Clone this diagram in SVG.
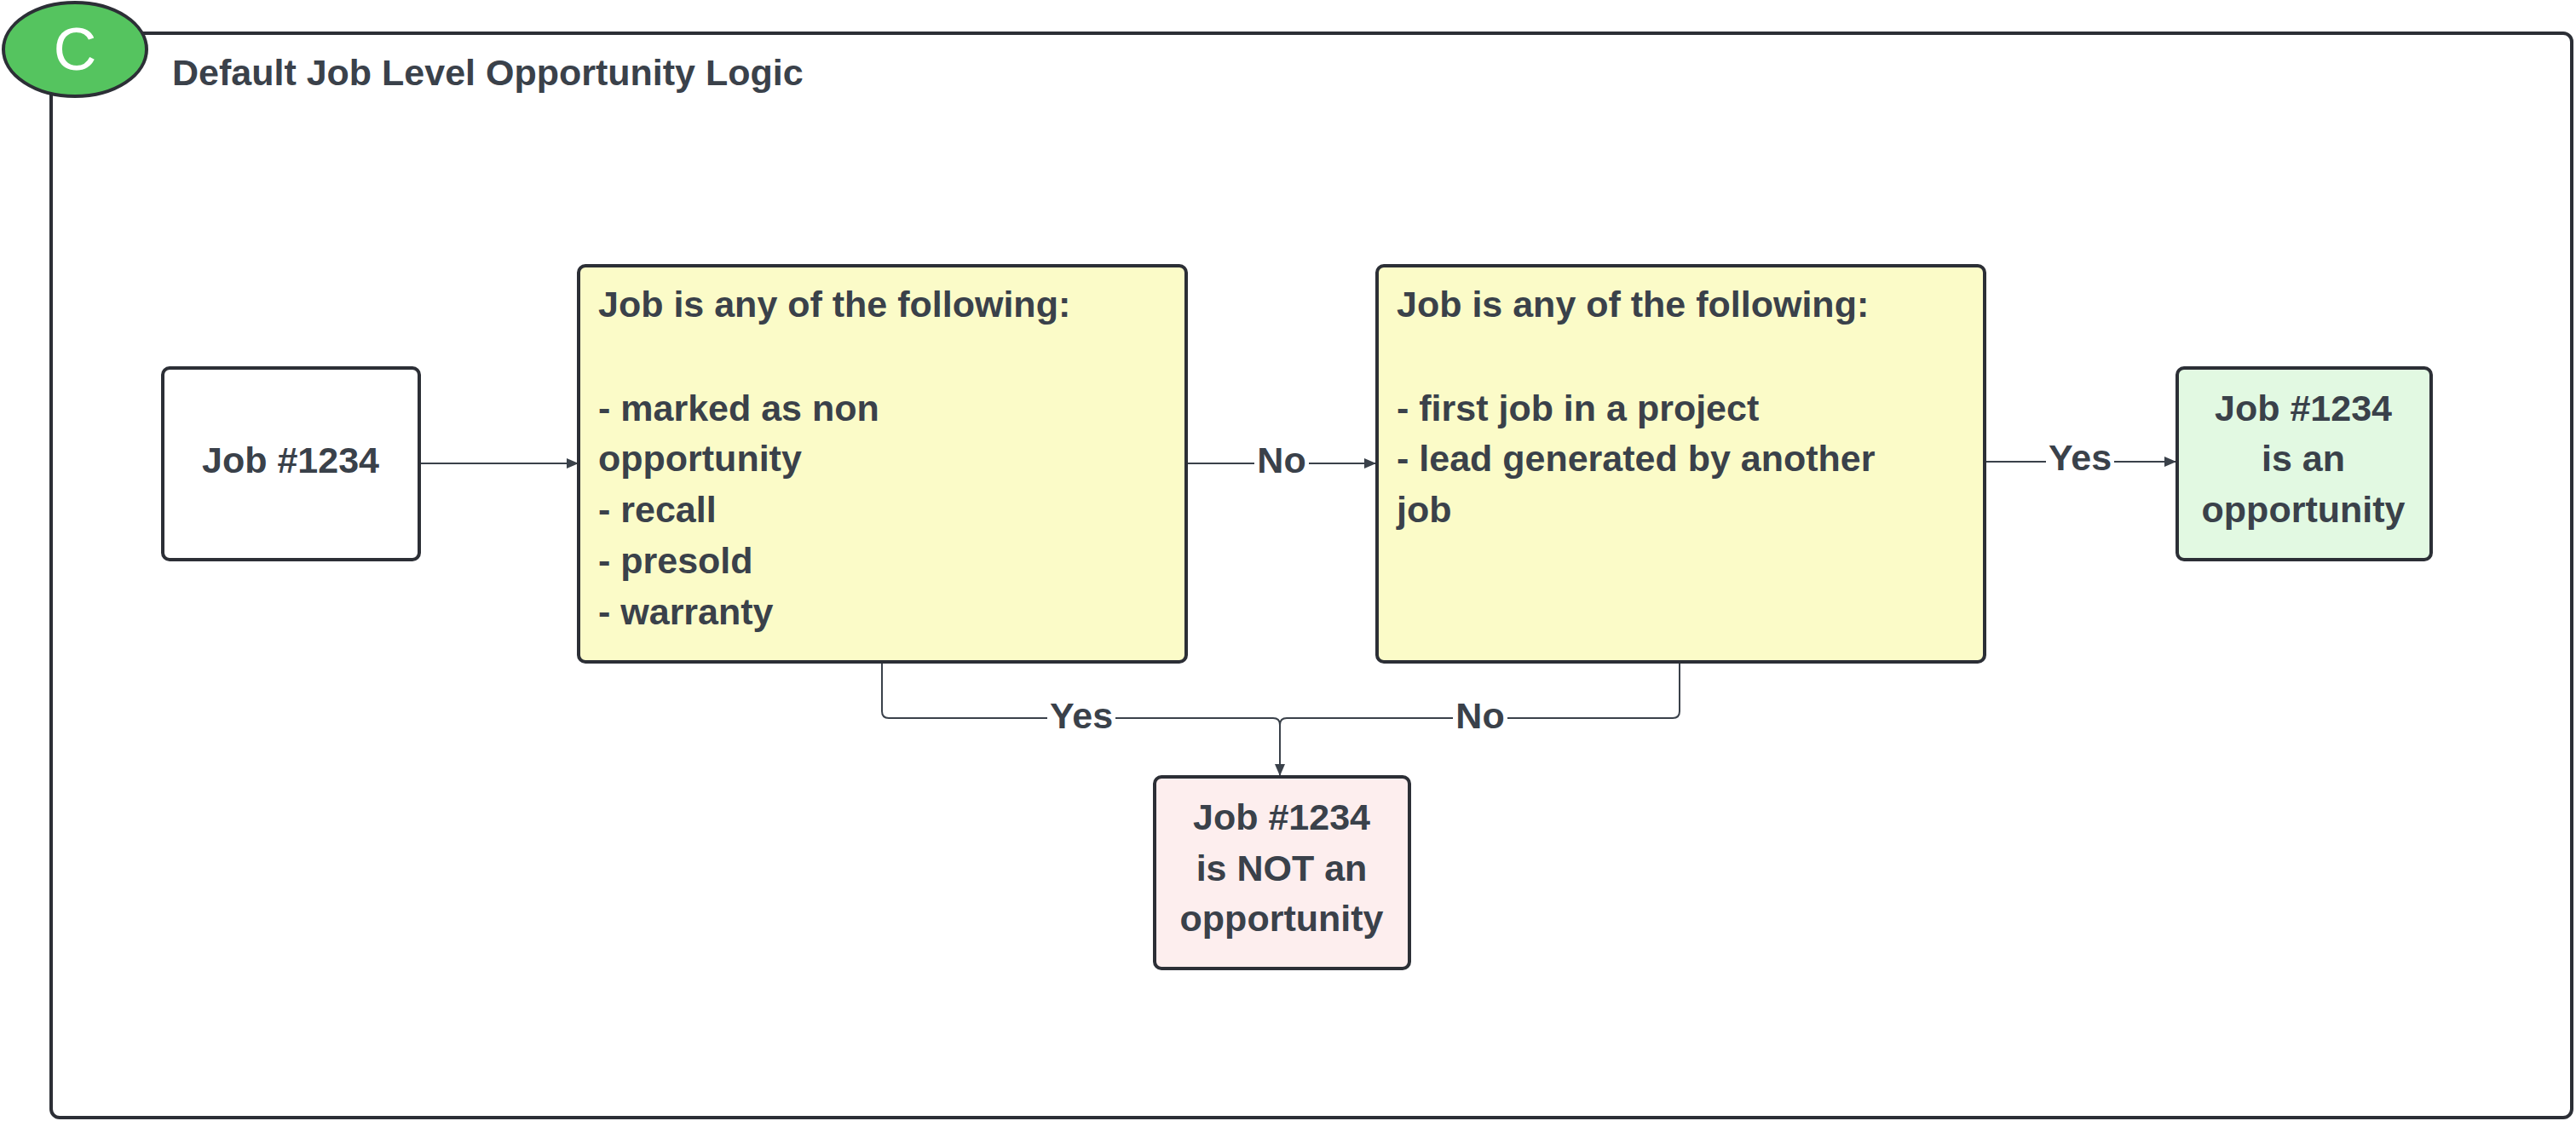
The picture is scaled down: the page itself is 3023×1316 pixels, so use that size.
<svg xmlns="http://www.w3.org/2000/svg" width="3023" height="1316" viewBox="0 0 3023 1316">
<style>
text{font-family:"Liberation Sans",Arial,sans-serif;font-weight:bold;font-size:43px;fill:#3a414a}
.box{stroke:#2c2f36;stroke-width:4}
.c{text-anchor:middle}
.conn{fill:none;stroke:#3a414a;stroke-width:2}
.lbl{fill:#fff;stroke:none}
</style>
<defs><marker id="ah" markerWidth="14" markerHeight="12" refX="13" refY="6" orient="auto" markerUnits="userSpaceOnUse"><path d="M0,0L14,6L0,12Z" fill="#3a414a"/></marker></defs>
<g id="frame">
<rect x="60" y="39" width="2958" height="1273" rx="10" fill="#fff" class="box"/>
<ellipse cx="88" cy="58" rx="84" ry="55" fill="#55c45f" class="box"/>
<text x="88" y="82" class="c" style="font-weight:normal;font-size:70px;fill:#fff">C</text>
<text x="202" y="100">Default Job Level Opportunity Logic</text>
</g>
<g id="connectors">
<path class="conn" d="M492,544H678" marker-end="url(#ah)"/>
<path class="conn" d="M1392,544H1614" marker-end="url(#ah)"/>
<path class="conn" d="M2329,542H2553" marker-end="url(#ah)"/>
<path class="conn" d="M1035,777V835Q1035,843 1043,843H1494Q1502,843 1502,851V910" marker-end="url(#ah)"/>
<path class="conn" d="M1971,777V835Q1971,843 1963,843H1510Q1502,843 1502,851"/>
<rect class="lbl" x="1472" y="515" width="64" height="48"/>
<text x="1504" y="555" class="c">No</text>
<rect class="lbl" x="2401" y="512" width="80" height="48"/>
<text x="2441" y="552" class="c">Yes</text>
<rect class="lbl" x="1229" y="818" width="80" height="48"/>
<text x="1269" y="855" class="c">Yes</text>
<rect class="lbl" x="1705" y="818" width="64" height="48"/>
<text x="1737" y="855" class="c">No</text>
</g>
<g id="start">
<rect x="191" y="432" width="301" height="225" rx="8" fill="#fff" class="box"/>
<text x="341" y="555" class="c">Job #1234</text>
</g>
<g id="check1">
<rect x="679" y="312" width="713" height="465" rx="8" fill="#fbfbc8" class="box"/>
<text x="702" y="372">Job is any of the following:</text>
<text x="702" y="494">- marked as non</text>
<text x="702" y="553">opportunity</text>
<text x="702" y="613">- recall</text>
<text x="702" y="673">- presold</text>
<text x="702" y="733">- warranty</text>
</g>
<g id="check2">
<rect x="1616" y="312" width="713" height="465" rx="8" fill="#fbfbc8" class="box"/>
<text x="1639" y="372">Job is any of the following:</text>
<text x="1639" y="494">- first job in a project</text>
<text x="1639" y="553">- lead generated by another</text>
<text x="1639" y="613">job</text>
</g>
<g id="yes">
<rect x="2555" y="432" width="298" height="225" rx="8" fill="#e2f9e2" class="box"/>
<text x="2703" y="494" class="c">Job #1234</text>
<text x="2703" y="553" class="c">is an</text>
<text x="2703" y="613" class="c">opportunity</text>
</g>
<g id="no">
<rect x="1355" y="912" width="299" height="225" rx="8" fill="#fdeeee" class="box"/>
<text x="1504" y="974" class="c">Job #1234</text>
<text x="1504" y="1034" class="c">is NOT an</text>
<text x="1504" y="1093" class="c">opportunity</text>
</g>
</svg>
